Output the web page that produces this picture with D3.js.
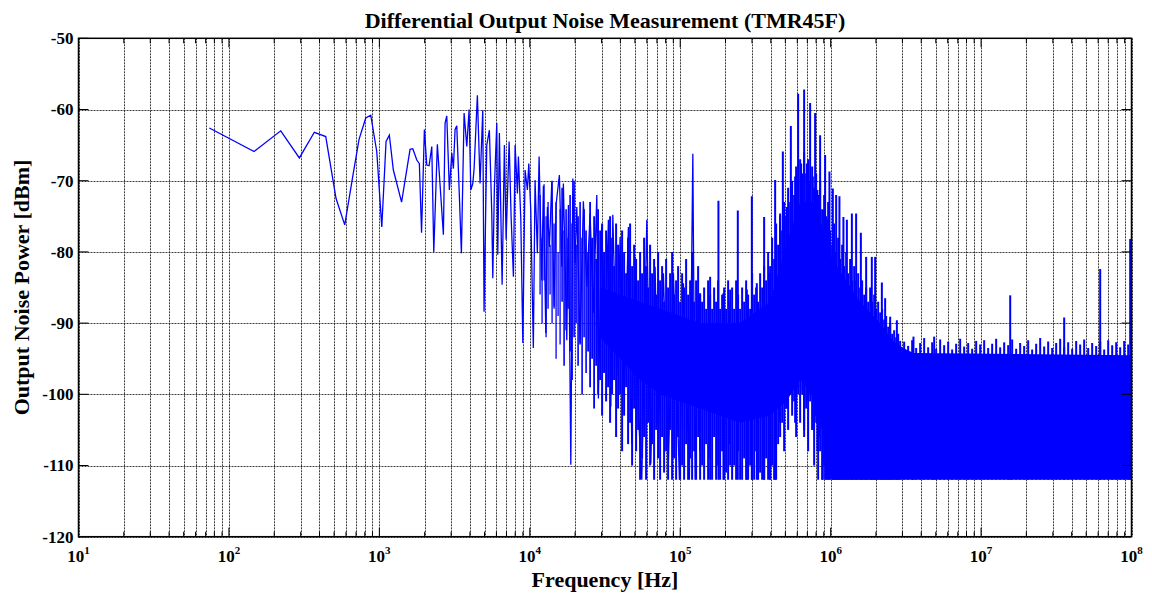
<!DOCTYPE html>
<html>
<head>
<meta charset="utf-8">
<script src="https://cdn.jsdelivr.net/npm/d3@7"></script>
<style>
  body { margin: 0; background: #fff; }
  text { font-family: "Liberation Serif", "Times New Roman", serif; font-weight: bold; fill: #000; }
</style>
</head>
<body>
<div id="chart"></div>
<script>

// ---- data ----
var titleText = "Differential Output Noise Measurement (TMR45F)";
var xLabel = "Frequency [Hz]";
var yLabel = "Output Noise Power [dBm]";

var xDomain = [10, 1e8];
var yDomain = [-120, -50];
var xTickExps = [1, 2, 3, 4, 5, 6, 7, 8];
var yTicks = [-120, -110, -100, -90, -80, -70, -60, -50];

// measured trace, sparse part and the first noisy decade (Hz, dBm)
var traceFreq = [74.1, 146.9, 221.0, 293.9, 369.6, 440.1, 515.4, 588.6, 665.6, 732.8,
    812.0, 876.5, 960.9, 1038, 1108, 1165, 1239, 1405, 1600, 1668,
    1774, 1845, 1908, 1992, 2067, 2141, 2231, 2300, 2430, 2665,
    2735, 2806, 2920, 3030, 3105, 3187, 3271, 3404, 3510, 3659,
    3813, 3950, 4054, 4180, 4264, 4483, 4672, 4869, 4967, 5177,
    5388, 5589, 5676, 5816, 6034, 6127, 6281, 6547, 6781, 6960,
    7288, 7514, 7784, 7989, 8276, 8403, 8718, 8989, 9307, 9638,
    9849, 10150, 10560, 10840, 11230, 11530, 12020, 12310, 12780, 13090,
    13500, 14010, 14500, 14960, 15730, 16320, 16720, 17620, 18060, 18740,
    19320, 20010, 20540, 21590, 22710, 23930, 25170, 26480, 27890, 28580,
    30110, 31670, 33310, 34560, 35640, 37890, 39850, 42360, 45240, 47660,
    50120, 52720, 55540, 59980, 63760, 68090, 71630, 77330, 83500, 90120,
    98790, 105000, 115100, 121300, 125600, 132100];
var traceDb = [-62.6, -65.9, -63.0, -66.8, -63.2, -63.8, -72.5, -76.2, -69.4, -64.2,
    -61.2, -60.8, -65.9, -76.5, -64.5, -63.6, -68.5, -73.0, -65.6, -65.5,
    -67.1, -67.6, -77.3, -62.8, -67.8, -67.9, -65.2, -80.0, -64.9, -77.6,
    -61.9, -60.9, -71.3, -66.1, -68.3, -62.8, -62.3, -72.2, -80.2, -60.5,
    -65.2, -60.0, -71.3, -70.4, -68.3, -58.0, -70.4, -60.1, -88.4, -65.0,
    -62.9, -74.6, -83.7, -71.1, -61.9, -80.4, -63.3, -84.6, -65.0, -78.3,
    -64.5, -75.1, -83.5, -65.0, -71.8, -66.6, -75.5, -92.8, -68.5, -71.3,
    -67.6, -74.1, -93.5, -69.9, -80.2, -66.6, -84.0, -70.7, -91.4, -73.7,
    -79.3, -70.1, -87.7, -73.3, -69.2, -82.1, -70.4, -92.4, -73.4, -109.9,
    -69.7, -81.6, -73.7, -92.8, -72.9, -84.9, -74.6, -88.6, -72.0, -100.6,
    -76.5, -92.8, -75.5, -101.7, -74.8, -97.5, -77.9, -100.3, -76.5, -106.9,
    -80.7, -102.7, -112, -75.5, -109.7, -82.1, -105.5, -83.0, -109.2, -83.0,
    -112, -84.4, -112, -66.2, -112, -84.0];

// solid core of the dense noise band (Hz, upper dBm, lower dBm)
var bandFreq = [29337, 39847, 54123, 73512, 99848, 135619, 250197, 396051,
    505982, 626933, 753370, 905308, 1023265, 1267866, 1570939, 2133722, 2603000, 3034000,
    3553000, 1e8];
var bandTop = [-85, -86, -87, -88, -89, -90, -90, -87,
    -79, -73, -73, -77, -81, -84, -87, -90, -92.5, -93.5,
    -94.2, -94.5];
var bandBottom = [-92, -95, -98, -100, -101, -102, -104, -103,
    -101, -98, -100, -106, -112, -112, -112, -112, -112, -112,
    -112, -112];

// dense spectral lines that make up the band texture (Hz, top dBm, bottom dBm)
var noiseFreq = [11707, 12071, 12446, 12833, 13232, 13644, 14068, 14506, 14957, 15422,
    15902, 16396, 16906, 17432, 17974, 18533, 19109, 19703, 20316, 20948,
    21599, 22271, 22963, 23677, 24413, 25172, 25955, 26762, 27594, 28452,
    29337, 30249, 31190, 32160, 33160, 34191, 35254, 36350, 37480, 38646,
    39847, 41086, 42364, 43681, 45039, 46440, 47884, 49373, 50908, 52491,
    54123, 55806, 57541, 59330, 61175, 63077, 65038, 67060, 69145, 71295,
    73512, 75798, 78155, 80585, 83091, 85674, 88338, 91085, 93917, 96837,
    99848, 102953, 106154, 109455, 112858, 116367, 119985, 123716, 127563, 131529,
    135619, 139836, 144184, 148667, 153290, 158056, 162971, 168038, 173263, 178650,
    184205, 189933, 195838, 201928, 208206, 214680, 221355, 228238, 235335, 242652,
    250197, 257976, 265998, 274268, 282796, 291590, 300656, 310004, 319643, 329582,
    339830, 350397, 361292, 372525, 384108, 396051, 408366, 421063, 434155, 447655,
    461574, 475926, 490724, 505982, 521715, 537937, 554663, 571909, 589692, 608027,
    626933, 646426, 666526, 687250, 708619, 730652, 753370, 776795, 800948, 825852,
    851531, 878008, 905308, 933457, 962481, 992408, 1023265, 1055081, 1087887, 1121713,
    1156590, 1192553, 1229633, 1267866, 1307289, 1347936, 1389847, 1433063, 1477622, 1523566,
    1570939, 1619783, 1670148, 1722077, 1775622, 1830831, 1887757, 1946453, 2006975, 2069378,
    2133722, 2200065, 2268472, 2339005, 2411733, 2486721, 2564041, 2643764, 2725967, 2810726,
    2898121, 3081100, 3275700, 3482500, 3702400, 3936200, 4184800, 4449000, 4730000, 5028700,
    5346200, 5683800, 6042700, 6424300, 6830000, 7261300, 7719800, 8207300, 8725600, 9276600,
    9862400, 10485200, 11147300, 11851200, 12599600, 13395200, 14241100, 15140400, 16096500, 17113000,
    18193600, 19342500, 20563900, 21862500, 23243100, 24710800, 26271200, 27930200, 29693900, 31569000,
    33562500, 35681900, 37935100, 40330600, 42877400, 45585000, 48463600, 51524000, 54777600, 58236700,
    61914200, 65823900, 69980500, 74400000, 79098000, 84093000, 89403000, 95049000];
var noiseTop = [-72, -78, -70.5, -75, -73, -79, -70, -76, -73, -80,
    -74, -71, -77, -74, -78, -72, -76, -70, -79, -75,
    -73, -78, -74, -77, -80, -73, -78, -75, -81, -74,
    -77, -76, -80, -77, -79, -75, -78, -82, -76, -79,
    -81, -77, -80, -83, -78, -76, -82, -79, -81, -84,
    -80, -83, -78, -82, -85, -79, -83, -81, -86, -80,
    -84, -82, -87, -81, -85, -83, -80, -86, -84, -82,
    -87, -83, -85, -81, -86, -84, -80, -87, -84, -82,
    -86, -87, -85, -88, -84, -86, -88, -85, -87, -84,
    -88, -86, -85, -88, -84, -87, -85, -88, -84, -86,
    -88, -85, -87, -84, -86, -88, -83, -86, -85, -87,
    -83, -85, -82, -84, -80, -82, -78, -81, -76, -79,
    -75, -77, -73, -75, -71, -73, -70, -72, -68, -70,
    -67, -69, -66, -69, -67, -70, -68, -71, -69, -72,
    -70, -74, -72, -75, -73, -77, -79, -76, -80, -78,
    -81, -79, -82, -80, -83, -81, -84, -82, -84, -83,
    -85, -84, -86, -85, -87, -85, -87, -86, -88, -87,
    -88.5, -88, -89.5, -89, -90.5, -90, -91.5, -91, -92, -91.5,
    -92.5, -92.6, -93.2, -92.4, -93.5, -92.8, -92.1, -93.4, -92.7, -93.6,
    -92.3, -93.1, -92.6, -93.7, -92.9, -92.2, -93.3, -92.8, -93.6, -92.5,
    -93.0, -92.4, -93.5, -92.9, -92.2, -93.4, -92.7, -93.1, -92.3, -93.6,
    -92.8, -93.2, -92.4, -93.7, -92.9, -92.1, -93.3, -92.6, -93.5, -92.8,
    -92.2, -93.4, -92.7, -93.6, -92.5, -93.0, -92.3, -93.5, -92.8, -93.2,
    -92.6, -93.7, -92.4, -93.1, -92.7, -93.4, -92.5, -93.0];
var noiseBottom = [-86, -90, -84, -92, -88, -86, -90, -88, -95, -89,
    -93, -87, -96, -91, -88, -94, -98, -92, -90, -96,
    -93, -100, -92, -97, -94, -99, -95, -102, -96, -100,
    -98, -103, -97, -101, -99, -104, -100, -98, -106, -102,
    -100, -108, -103, -99, -107, -104, -110, -102, -108, -105,
    -112, -109, -106, -112, -104, -110, -107, -112, -105, -109,
    -112, -106, -111, -108, -112, -105, -112, -109, -112, -106,
    -112, -110, -112, -107, -112, -109, -112, -108, -112, -106,
    -112, -110, -112, -107, -112, -109, -112, -106, -112, -110,
    -112, -108, -112, -111, -112, -107, -112, -110, -112, -108,
    -112, -112, -109, -112, -112, -110, -112, -112, -108, -112,
    -111, -112, -112, -109, -112, -112, -110, -112, -112, -107,
    -106, -104, -108, -102, -105, -100, -103, -101, -106, -99,
    -104, -100, -106, -102, -108, -101, -105, -110, -104, -112,
    -108, -112, -110, -112, -112, -112, -112, -112, -112, -112,
    -112, -112, -112, -112, -112, -112, -112, -112, -112, -112,
    -112, -112, -112, -112, -112, -112, -112, -112, -112, -112,
    -112, -112, -112, -112, -112, -112, -112, -112, -112, -112,
    -112, -112, -112, -112, -112, -112, -112, -112, -112, -112,
    -112, -112, -112, -112, -112, -112, -112, -112, -112, -112,
    -112, -112, -112, -112, -112, -112, -112, -112, -112, -112,
    -112, -112, -112, -112, -112, -112, -112, -112, -112, -112,
    -112, -112, -112, -112, -112, -112, -112, -112, -112, -112,
    -112, -112, -112, -112, -112, -112, -112, -112];

// single tall spectral lines (Hz, top dBm, bottom dBm)
var stemFreq = [135600, 158100, 179500, 193800, 214700, 241500, 277200, 299300, 323000, 361300,
    396000, 427600, 461600, 481100, 511500, 543800, 580700, 608000, 636600, 666500,
    694600, 730500, 761300, 788600, 816800, 851300, 887200, 919000, 952000, 981700,
    1034000, 1088000, 1144000, 1216000, 1282000, 1384000, 1477000, 1588000, 1722000, 1878000,
    1976000, 2190000, 2303000, 2487000, 2756000, 3553000, 4878000, 15620000, 35680000, 61930000,
    98000000];
var stemTop = [-85.8, -83.5, -72.8, -85.8, -85.3, -74.2, -85.3, -72.2, -84.4, -75.1,
    -83.0, -69.9, -74.6, -65.9, -73.7, -62.3, -69.4, -57.8, -67.6, -57.2,
    -67.6, -59.1, -69.4, -60.5, -71.3, -63.6, -74.1, -66.4, -75.5, -68.7,
    -71.1, -72.0, -72.2, -75.1, -75.5, -74.6, -74.6, -77.3, -80.7, -80.7,
    -80.7, -84.3, -86.5, -89.1, -89.6, -91.9, -91.9, -86.1, -89.2, -82.4,
    -78.2];
var stemBottom = [-108, -112, -112, -112, -110, -112, -112, -112, -112, -112,
    -112, -112, -104, -100, -102, -99, -104, -100, -98, -105,
    -101, -100, -105, -103, -108, -106, -112, -112, -112, -112,
    -112, -112, -112, -112, -112, -112, -112, -112, -112, -112,
    -112, -112, -112, -112, -112, -112, -112, -112, -112, -112,
    -112];

// ---- layout ----
var width = 1152, height = 596;
var plot = { left: 78.5, right: 1131.5, top: 38.3, bottom: 536.7 };
var lineColor = "#0000ff";

var svg = d3.select("#chart").append("svg")
    .attr("width", width)
    .attr("height", height);

var x = d3.scaleLog()
    .domain(xDomain)
    .range([plot.left, plot.right]);

var y = d3.scaleLinear()
    .domain(yDomain)
    .range([plot.bottom, plot.top]);

svg.append("clipPath")
    .attr("id", "plot-clip")
    .append("rect")
    .attr("x", plot.left)
    .attr("y", plot.top)
    .attr("width", plot.right - plot.left)
    .attr("height", plot.bottom - plot.top);

// grid (major + minor, dotted like matlab)
var xGrid = x.ticks();
var grid = svg.append("g").attr("class", "grid")
    .attr("stroke", "#1a1a1a")
    .attr("stroke-opacity", 0.85)
    .attr("stroke-dasharray", "2,1");

grid.selectAll(".vgrid")
    .data(xGrid)
    .enter().append("line")
    .attr("class", "vgrid")
    .attr("x1", function(d) { return Math.round(x(d)) + 0.5; })
    .attr("x2", function(d) { return Math.round(x(d)) + 0.5; })
    .attr("y1", plot.top)
    .attr("y2", plot.bottom);

grid.selectAll(".hgrid")
    .data(yTicks)
    .enter().append("line")
    .attr("class", "hgrid")
    .attr("x1", plot.left)
    .attr("x2", plot.right)
    .attr("y1", function(d) { return Math.round(y(d)) + 0.5; })
    .attr("y2", function(d) { return Math.round(y(d)) + 0.5; });

// data
var dataG = svg.append("g").attr("clip-path", "url(#plot-clip)");

var band = d3.range(bandFreq.length).map(function(i) {
    return { f: bandFreq[i], top: bandTop[i], bot: bandBottom[i] };
});

var area = d3.area()
    .x(function(d) { return x(d.f); })
    .y0(function(d) { return y(d.bot); })
    .y1(function(d) { return y(d.top); });

dataG.append("path")
    .datum(band)
    .attr("d", area)
    .attr("fill", lineColor);

var noise = d3.range(noiseFreq.length).map(function(i) {
    return { f: noiseFreq[i], top: noiseTop[i], bot: noiseBottom[i] };
});

var stems = d3.range(stemFreq.length).map(function(i) {
    return { f: stemFreq[i], top: stemTop[i], bot: stemBottom[i] };
});

// lines get packed tighter as the spectrum gets denser
var stemWidth = function(f) {
    if (f < 16000) return 1.3;
    if (f < 24000) return 1.6;
    if (f < 30000) return 1.8;
    return 2;
};

dataG.selectAll(".noise")
    .data(noise.concat(stems))
    .enter().append("line")
    .attr("class", "noise")
    .attr("x1", function(d) { return x(d.f); })
    .attr("x2", function(d) { return x(d.f); })
    .attr("y1", function(d) { return y(d.top); })
    .attr("y2", function(d) { return y(d.bot); })
    .attr("stroke", lineColor)
    .attr("stroke-width", function(d) { return stemWidth(d.f); });

var trace = d3.range(traceFreq.length).map(function(i) {
    return { f: traceFreq[i], v: traceDb[i] };
});

var line = d3.line()
    .x(function(d) { return x(d.f); })
    .y(function(d) { return y(d.v); });

dataG.append("path")
    .datum(trace)
    .attr("d", line)
    .attr("fill", "none")
    .attr("stroke", lineColor)
    .attr("stroke-width", 1.3);

// axes box
svg.append("rect")
    .attr("x", plot.left)
    .attr("y", plot.top)
    .attr("width", plot.right - plot.left)
    .attr("height", plot.bottom - plot.top)
    .attr("fill", "none")
    .attr("stroke", "#000")
    .attr("stroke-width", 1.5);

// inner ticks
var isMajor = function(d) { return Math.abs(Math.log10(d) - Math.round(Math.log10(d))) < 1e-6; };
var ticks = svg.append("g").attr("stroke", "#000").attr("stroke-width", 1);

ticks.selectAll(".xt-bot")
    .data(xGrid)
    .enter().append("line")
    .attr("x1", function(d) { return x(d); })
    .attr("x2", function(d) { return x(d); })
    .attr("y1", plot.bottom)
    .attr("y2", function(d) { return plot.bottom - (isMajor(d) ? 9 : 5); });

ticks.selectAll(".xt-top")
    .data(xGrid)
    .enter().append("line")
    .attr("x1", function(d) { return x(d); })
    .attr("x2", function(d) { return x(d); })
    .attr("y1", plot.top)
    .attr("y2", function(d) { return plot.top + (isMajor(d) ? 9 : 5); });

ticks.selectAll(".yt-left")
    .data(yTicks)
    .enter().append("line")
    .attr("x1", plot.left)
    .attr("x2", plot.left + 10)
    .attr("y1", function(d) { return y(d); })
    .attr("y2", function(d) { return y(d); });

ticks.selectAll(".yt-right")
    .data(yTicks)
    .enter().append("line")
    .attr("x1", plot.right)
    .attr("x2", plot.right - 10)
    .attr("y1", function(d) { return y(d); })
    .attr("y2", function(d) { return y(d); });

// tick labels
svg.selectAll(".ylab")
    .data(yTicks)
    .enter().append("text")
    .attr("class", "ylab")
    .attr("x", plot.left - 5)
    .attr("y", function(d) { return y(d); })
    .attr("dy", "0.35em")
    .attr("text-anchor", "end")
    .style("font-size", "17px")
    .text(function(d) { return d; });

var xl = svg.selectAll(".xlab")
    .data(xTickExps)
    .enter().append("text")
    .attr("class", "xlab")
    .attr("x", function(d) { return x(Math.pow(10, d)); })
    .attr("y", 562)
    .attr("text-anchor", "middle")
    .style("font-size", "17px");
xl.append("tspan").text("10");
xl.append("tspan")
    .attr("dy", -8)
    .style("font-size", "11px")
    .text(function(d) { return d; });

// titles
var midX = (plot.left + plot.right) / 2;
var midY = (plot.top + plot.bottom) / 2;

svg.append("text")
    .attr("x", midX)
    .attr("y", 28)
    .attr("text-anchor", "middle")
    .style("font-size", "22px")
    .text(titleText);

svg.append("text")
    .attr("x", midX)
    .attr("y", 587)
    .attr("text-anchor", "middle")
    .style("font-size", "22px")
    .text(xLabel);

svg.append("text")
    .attr("transform", "translate(29," + midY + ") rotate(-90)")
    .attr("text-anchor", "middle")
    .style("font-size", "22px")
    .text(yLabel);

</script>
</body>
</html>
